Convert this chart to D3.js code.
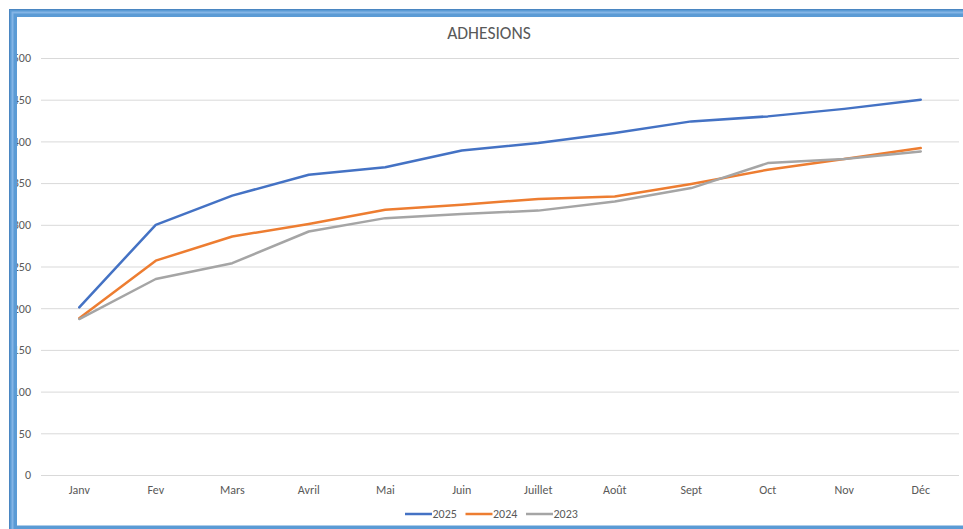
<!DOCTYPE html>
<html>
<head>
<meta charset="utf-8">
<script src="https://cdn.jsdelivr.net/npm/d3@7"></script>
<style>
    body { margin: 0; background: #ffffff; }
    text { font-family: Carlito, "Open Sans", sans-serif; fill: #595959; }
</style>
</head>
<body>
<div id="chart"></div>
<script>
// chart data
const months = ["Janv", "Fev", "Mars", "Avril", "Mai", "Juin", "Juillet", "Août", "Sept", "Oct", "Nov", "Déc"];
const years = ["2025", "2024", "2023"];
const values2025 = [201, 300, 335, 360, 369, 389, 398, 410, 424, 430, 439, 450];
const values2024 = [188, 257, 286, 301, 318, 324, 331, 334, 349, 366, 379, 392];
const values2023 = [187, 235, 254, 292, 308, 313, 317, 328, 344, 374, 379, 388];
const yTicks = [0, 50, 100, 150, 200, 250, 300, 350, 400, 450, 500];
const colors = ["#4472C4", "#ED7D31", "#A5A5A5"];

const series = [values2025, values2024, values2023];

const width = 963;
const height = 529;

const svg = d3.select("#chart")
    .append("svg")
    .attr("width", width)
    .attr("height", height);

const x = d3.scaleBand()
    .domain(months)
    .range([41, 959])
    .padding(0);

const y = d3.scaleLinear()
    .domain([0, 500])
    .range([475, 58]);

// title
svg.append("text")
    .attr("x", 489)
    .attr("y", 38.5)
    .attr("text-anchor", "middle")
    .style("font-size", "17.5px")
    .text("ADHESIONS");

// gridlines + y labels
const yAxis = svg.append("g")
    .attr("transform", "translate(41,0)")
    .call(d3.axisLeft(y).tickValues(yTicks).tickSize(-918).tickPadding(10));

yAxis.select(".domain").remove();
yAxis.selectAll("line").attr("stroke", "#d9d9d9").attr("stroke-width", 1);
yAxis.selectAll("text")
    .style("font-size", "12px")
    .style("font-family", "Carlito, 'Open Sans', sans-serif")
    .attr("fill", "#595959");

// x labels
const xAxis = svg.append("g")
    .attr("transform", "translate(0,475)")
    .call(d3.axisBottom(x).tickSize(0).tickPadding(10));

xAxis.select(".domain").remove();
xAxis.selectAll("text")
    .style("font-size", "12px")
    .style("font-family", "Carlito, 'Open Sans', sans-serif")
    .attr("fill", "#595959");

// lines
const line = d3.line()
    .x((d, i) => x(months[i]) + x.bandwidth() / 2)
    .y(d => y(d));

svg.selectAll(".series")
    .data(series)
    .enter()
    .append("path")
    .attr("class", "series")
    .attr("d", d => line(d))
    .attr("fill", "none")
    .attr("stroke", (d, i) => colors[i])
    .attr("stroke-width", 2.5)
    .attr("stroke-linejoin", "round")
    .attr("stroke-linecap", "round");

// legend
const legend = svg.selectAll(".legend")
    .data(years)
    .enter()
    .append("g")
    .attr("class", "legend")
    .attr("transform", (d, i) => `translate(${405 + i * 60.5},514)`);

legend.append("line")
    .attr("x1", 0)
    .attr("x2", 27)
    .attr("stroke", (d, i) => colors[i])
    .attr("stroke-width", 2.5);

legend.append("text")
    .attr("x", 27.5)
    .attr("y", 4)
    .style("font-size", "12px")
    .text(d => d);

// blue frame (cut off on the right like the screenshot)
svg.append("rect")
    .attr("x", 13)
    .attr("y", 13)
    .attr("width", 1000)
    .attr("height", 516.5)
    .attr("fill", "none")
    .attr("stroke", "#5B9BD5")
    .attr("stroke-width", 8);

svg.append("rect")
    .attr("x", 12.5)
    .attr("y", 12.5)
    .attr("width", 1000)
    .attr("height", 517.5)
    .attr("fill", "none")
    .attr("stroke", "#84B5E6")
    .attr("stroke-width", 2);

svg.append("rect")
    .attr("x", 9.5)
    .attr("y", 9.5)
    .attr("width", 1000)
    .attr("height", 523.5)
    .attr("fill", "none")
    .attr("stroke", "#4A86C2")
    .attr("stroke-width", 1);
</script>
</body>
</html>
